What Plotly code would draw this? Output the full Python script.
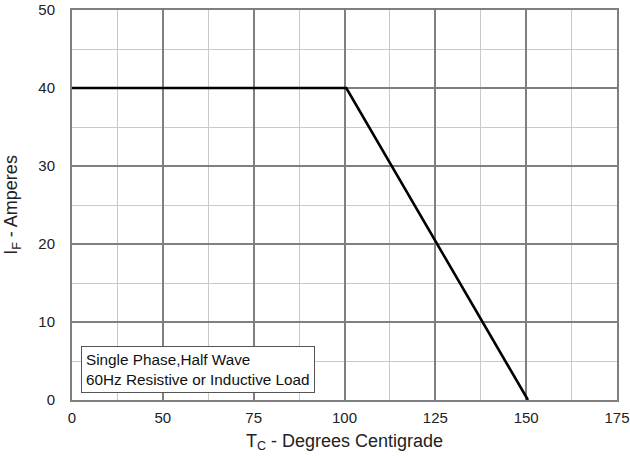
import plotly.graph_objects as go

# Data
temp_c = [25, 100.5, 150.5]
current_a = [40, 40, 0]
x_tickvals = [25, 50, 75, 100, 125, 150, 175]
x_ticktext = ["0", "50", "75", "100", "125", "150", "175"]
y_tickvals = [0, 10, 20, 30, 40, 50]
note_lines = ["Single Phase,Half Wave", "60Hz Resistive or Inductive Load"]

major = "#7f7f80"
minor = "#c9c9c9"
font = "Liberation Sans, Arial, sans-serif"

fig = go.Figure()
fig.add_trace(go.Scatter(x=temp_c, y=current_a, mode="lines",
                         line=dict(color="#000000", width=2.6), showlegend=False))

fig.update_layout(
    width=630, height=456,
    margin=dict(l=72, r=13, t=10, b=56),
    paper_bgcolor="white", plot_bgcolor="white",
    font=dict(family=font, size=15, color="#222222"),
    xaxis=dict(range=[25, 175], tickvals=x_tickvals, ticktext=x_ticktext,
               showgrid=True, gridcolor=major, gridwidth=2,
               minor=dict(dtick=12.5, tick0=25, showgrid=True, gridcolor=minor, gridwidth=1),
               showline=True, linecolor=major, linewidth=2, mirror=True,
               zeroline=False, ticks="", ticklabelstandoff=3, automargin=False,
               title=dict(text="T<sub>C</sub> - Degrees Centigrade", font=dict(size=18), standoff=9)),
    yaxis=dict(range=[0, 50], tickvals=y_tickvals,
               showgrid=True, gridcolor=major, gridwidth=2,
               minor=dict(dtick=5, tick0=0, showgrid=True, gridcolor=minor, gridwidth=1),
               showline=True, linecolor=major, linewidth=2, mirror=True,
               zeroline=False, ticks="", ticklabelstandoff=12, automargin=False,
               title=dict(text="I<sub>F</sub> - Amperes", font=dict(size=18), standoff=16)),
    annotations=[dict(
        text="<br>".join(note_lines), xref="paper", yref="paper",
        x=0.0165, y=0.018, xanchor="left", yanchor="bottom", align="left",
        showarrow=False, font=dict(size=15.3, color="#111111"),
        bgcolor="white", bordercolor="#555555", borderwidth=1, borderpad=4)],
)

fig.write_html("out.html", config={"displayModeBar": False},
               post_script="document.body.style.margin='0';")
